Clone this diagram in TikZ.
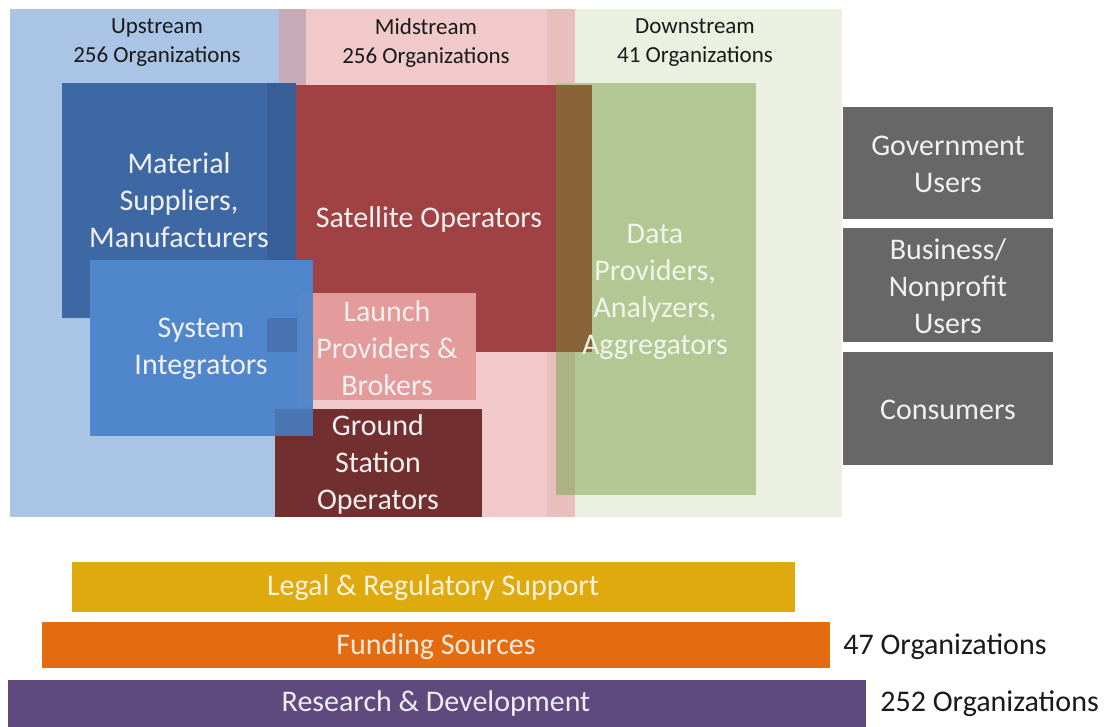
\documentclass[tikz,border=0pt]{standalone}
\usepackage{fontspec}
\setmainfont{Carlito}
\usepackage{tikz}
\usetikzlibrary{positioning}
\usepackage{xcolor}
\definecolor{upcol}{HTML}{A9C4E4}
\definecolor{midcol}{HTML}{F1C9CA}
\definecolor{dncol}{HTML}{EAF1E1}
\definecolor{umcol}{HTML}{C9AAB9}
\definecolor{mdcol}{HTML}{E8BFBD}
\definecolor{matcol}{HTML}{3E68A4}
\definecolor{matdark}{HTML}{385E97}
\definecolor{satcol}{HTML}{A04243}
\definecolor{browncol}{HTML}{8A6439}
\definecolor{datacol}{HTML}{B3C794}
\definecolor{olivecol}{HTML}{ACB284}
\definecolor{syscol}{HTML}{5087CC}
\definecolor{sysdark}{HTML}{4872B2}
\definecolor{syspink}{HTML}{5587C9}
\definecolor{launchcol}{HTML}{E39B9C}
\definecolor{groundcol}{HTML}{722F30}
\definecolor{gsovl}{HTML}{4A74B2}
\definecolor{usercol}{HTML}{676767}
\definecolor{legalcol}{HTML}{DFAA0E}
\definecolor{fundcol}{HTML}{E36C10}
\definecolor{rdcol}{HTML}{5E4A7C}
\definecolor{inkcol}{HTML}{1A1A1A}
\tikzset{
  % flat filled block, no border
  blk/.style={fill=#1, draw=none},
  % white-ish label on a block
  lbl/.style={font=\fontsize{15}{18.5}\selectfont, text=#1, align=center, inner sep=0pt},
  lbl/.default={white!94!black},
  % stream header (upstream, midstream, downstream)
  hdr/.style={font=\fontsize{11.5}{14.5}\selectfont, text=inkcol, align=center, inner sep=0pt},
  % count next to the support bars
  cnt/.style={font=\fontsize{15}{18}\selectfont, text=inkcol, anchor=west, inner sep=0pt},
}
\begin{document}
\begin{tikzpicture}[x=0.5pt, y=-0.5pt]
  \useasboundingbox[fill=white] (0,0) rectangle (1110,727);
  % stream backgrounds
  \fill[blk=upcol] (10,9) rectangle (306,517);
  \fill[blk=midcol] (279,9) rectangle (575,517);
  \fill[blk=dncol] (547,9) rectangle (842,517);
  \fill[blk=umcol] (279,9) rectangle (306,517);
  \fill[blk=mdcol] (547,9) rectangle (575,517);
  \node[hdr] (up) at (157,43) {Upstream\\256 Organizations};
  \node[hdr] (mid) at (426,43) {Midstream\\256 Organizations};
  \node[hdr] (dn) at (695,43) {Downstream\\41 Organizations};
  % upstream blocks
  \fill[blk=matcol] (62,83) rectangle (296,318);
  \fill[blk=matdark] (267,83) rectangle (296,318);
  % midstream blocks
  \fill[blk=satcol] (296,85) rectangle (556,352);
  \fill[blk=launchcol] (313,293) rectangle (476,400);
  \fill[blk=groundcol] (275,409) rectangle (482,517);
  % downstream block
  \fill[blk=datacol] (556,83) rectangle (756,495);
  \fill[blk=browncol] (556,85) rectangle (592,352);
  \fill[blk=olivecol] (556,352) rectangle (575,495);
  % system integrators sit on top
  \fill[blk=syscol] (90,260) rectangle (313,436);
  \fill[blk=sysdark] (267,318) rectangle (297,352);
  \fill[blk=syspink] (299,293) rectangle (313,407);
  \fill[blk=gsovl] (275,409) rectangle (313,436);
  \node[lbl] (mat) at (179,200) {Material\\Suppliers,\\Manufacturers};
  \node[lbl] (sat) at (429,220) {Satellite Operators};
  \node[lbl] (sys) at (201,349) {System\\Integrators};
  \node[lbl] (launch) at (387,348) {Launch\\Providers \&\\Brokers};
  \node[lbl] (ground) at (378,465) {Ground\\Station\\Operators};
  \node[lbl=dncol!70!white] (data) at (655,292) {Data\\Providers,\\Analyzers,\\Aggregators};
  % end users
  \fill[blk=usercol] (843,107) rectangle (1053,219);
  \fill[blk=usercol] (843,228) rectangle (1053,342);
  \fill[blk=usercol] (843,352) rectangle (1053,465);
  \node[lbl] (gov) at (948,164) {Government\\Users};
  \node[lbl] (biz) at (948,286) {Business/\\Nonprofit\\Users};
  \node[lbl] (cons) at (948,410) {Consumers};
  % support bars
  \fill[blk=legalcol] (72,562) rectangle (795,612);
  \fill[blk=fundcol] (42,622) rectangle (830,668);
  \fill[blk=rdcol] (8,680) rectangle (866,727);
  \node[lbl=legalcol!15!white] (legal) at (433,588) {Legal \& Regulatory Support};
  \node[lbl=fundcol!15!white] (fund) at (436,647) {Funding Sources};
  \node[lbl=rdcol!10!white] (rd) at (436,704) {Research \& Development};
  \node[cnt] (fundn) at (843,647) {47 Organizations};
  \node[cnt] (rdn) at (880,704) {252 Organizations};
\end{tikzpicture}
\end{document}
